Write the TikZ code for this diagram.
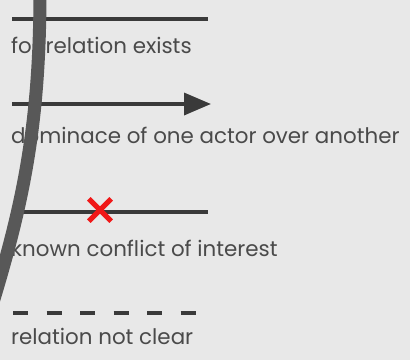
\documentclass[tikz,border=0pt]{standalone}
\usepackage{fontspec}
\setmainfont{Poppins}
\usetikzlibrary{arrows.meta}
\definecolor{bggray}{HTML}{E8E8E8}
\definecolor{linegray}{HTML}{3A3A3A}
\definecolor{textgray}{HTML}{4A4A4A}
\definecolor{curvegray}{HTML}{585858}
\definecolor{crossred}{HTML}{F01818}

\begin{document}
\begin{tikzpicture}[x=1pt, y=-1pt,
    legline/.style={line width=3.5pt, linegray},
    legtext/.style={anchor=west, inner sep=0pt, text=textgray,
      font=\fontsize{21.4}{24}\selectfont},
    crossmark/.style={crossred, line width=5pt}]
    % background
    \fill[bggray] (0,0) rectangle (410,360);
    \useasboundingbox (0,0) rectangle (410,360);

    % relation exists
    \coordinate (rel1) at (12,19);
    \coordinate (rel2) at (208,19);
    \draw[legline] (rel1) -- (rel2);
    \node[legtext] (reltext) at (11,45) {for relation exists};

    % dominance
    \coordinate (dom1) at (12,104);
    \coordinate (dom2) at (211,104);
    \draw[legline, -{Triangle[length=27pt, width=22pt]}] (dom1) -- (dom2);
    \node[legtext] (domtext) at (11,135) {dominace of one actor over another};

    % conflict of interest
    \coordinate (con1) at (12,212);
    \coordinate (con2) at (208,212);
    \draw[legline] (con1) -- (con2);
    \node[minimum size=22pt, inner sep=0pt] (cross) at (100,210) {};
    \draw[crossmark] (cross.north west) -- (cross.south east);
    \draw[crossmark] (cross.north east) -- (cross.south west);
    \node[legtext] (context) at (11,248) {known conflict of interest};

    % not clear
    \coordinate (unc1) at (13,313);
    \coordinate (unc2) at (196,313);
    \draw[legline, dash pattern=on 15pt off 18.5pt] (unc1) -- (unc2);
    \node[legtext] (unctext) at (11,336) {relation not clear};

    % curve on top
    \draw[curvegray, line width=13pt] (40,-10) .. controls (40,130) and (22,210) .. (-14,325);
\end{tikzpicture}
\end{document}
